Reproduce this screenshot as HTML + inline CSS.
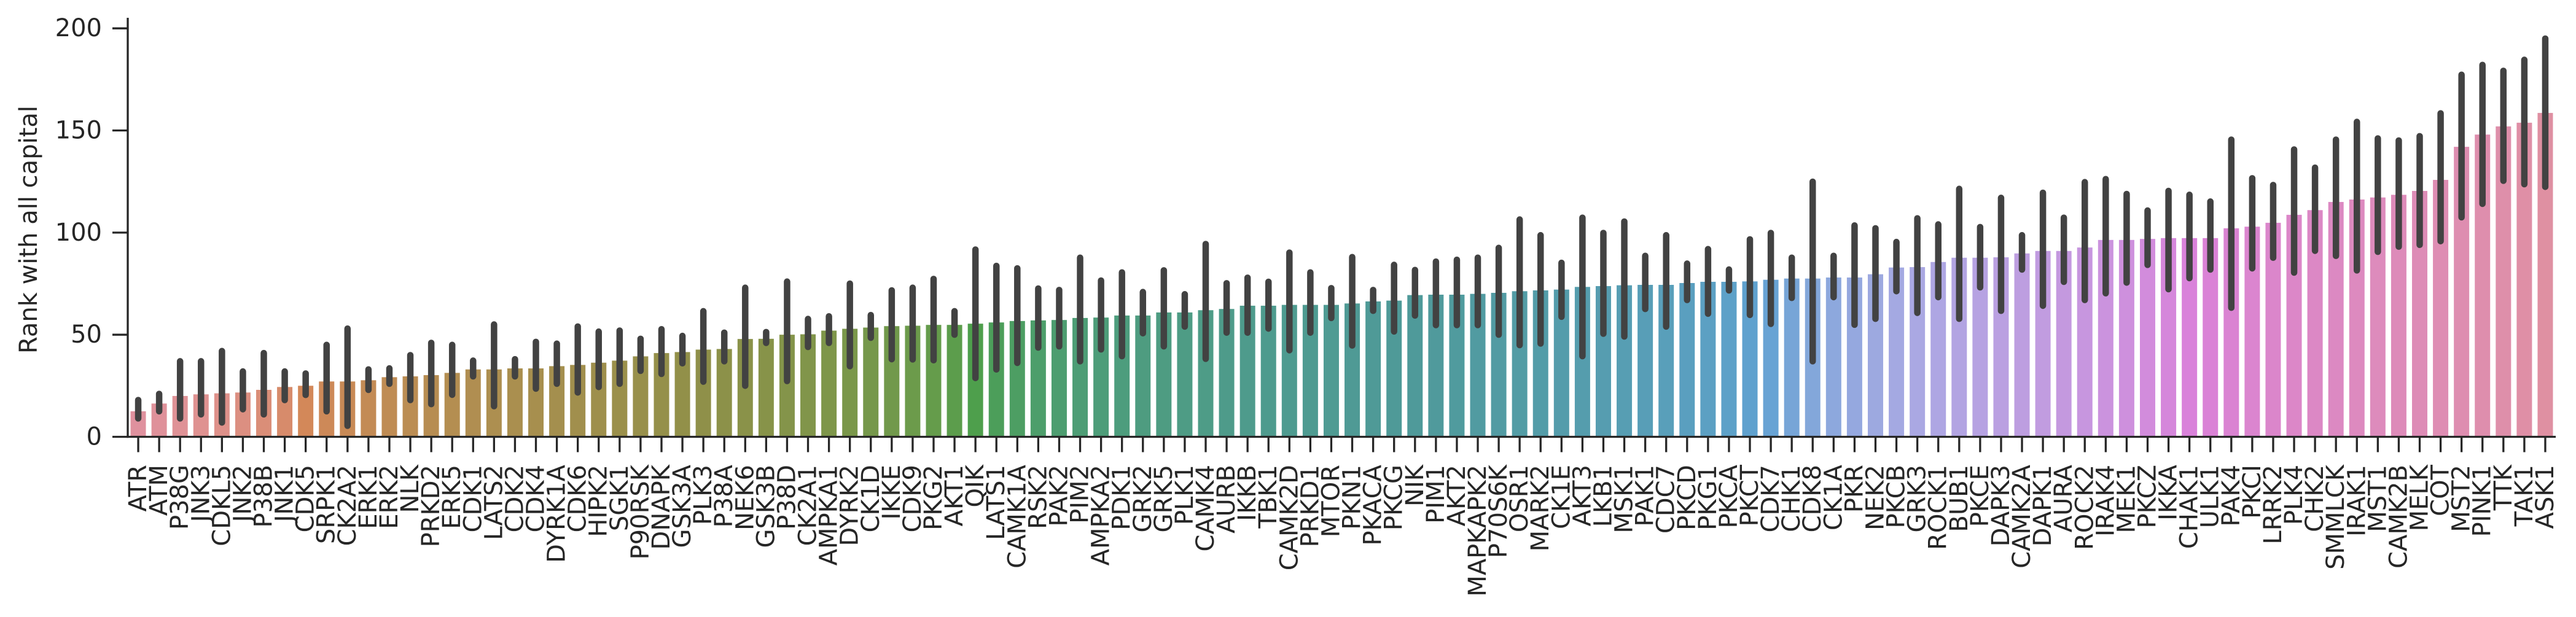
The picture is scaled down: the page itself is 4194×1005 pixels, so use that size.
<!DOCTYPE html>
<html><head><meta charset="utf-8"><style>
html,body{margin:0;padding:0;background:#fff;}
svg{display:block;font-family:"DejaVu Sans","Liberation Sans",sans-serif;}
</style></head><body>
<svg id="chart" width="4194" height="1005" viewBox="0 0 4194 1005" xmlns="http://www.w3.org/2000/svg">
<rect x="0" y="0" width="4194" height="1005" fill="#fff"/>
<g id="bars"></g>
<g id="errs"></g>
<g id="axes"></g>
<text x="0" y="0" transform="translate(60,374) rotate(-90)" text-anchor="middle" font-size="40" fill="#262626">Rank with all capital</text>
</svg>
<script>
const categories = ["ATR","ATM","P38G","JNK3","CDKL5","JNK2","P38B","JNK1","CDK5","SRPK1","CK2A2","ERK1","ERK2","NLK","PRKD2","ERK5","CDK1","LATS2","CDK2","CDK4","DYRK1A","CDK6","HIPK2","SGK1","P90RSK","DNAPK","GSK3A","PLK3","P38A","NEK6","GSK3B","P38D","CK2A1","AMPKA1","DYRK2","CK1D","IKKE","CDK9","PKG2","AKT1","QIK","LATS1","CAMK1A","RSK2","PAK2","PIM2","AMPKA2","PDK1","GRK2","GRK5","PLK1","CAMK4","AURB","IKKB","TBK1","CAMK2D","PRKD1","MTOR","PKN1","PKACA","PKCG","NIK","PIM1","AKT2","MAPKAPK2","P70S6K","OSR1","MARK2","CK1E","AKT3","LKB1","MSK1","PAK1","CDC7","PKCD","PKG1","PKCA","PKCT","CDK7","CHK1","CDK8","CK1A","PKR","NEK2","PKCB","GRK3","ROCK1","BUB1","PKCE","DAPK3","CAMK2A","DAPK1","AURA","ROCK2","IRAK4","MEK1","PKCZ","IKKA","CHAK1","ULK1","PAK4","PKCI","LRRK2","PLK4","CHK2","SMMLCK","IRAK1","MST1","CAMK2B","MELK","COT","MST2","PINK1","TTK","TAK1","ASK1"];
const means = [12.5,16.3,20,20.8,21.3,21.7,23,24.4,25,27.1,27.1,27.7,29.2,29.6,30.2,31.3,33,33,33.5,33.5,34.6,35.2,36.3,37.3,39.4,41,41.5,42.7,43,47.9,48,50,50.2,52,52.9,53.5,54.2,54.4,54.8,54.8,55.4,56,56.7,57,57.2,58.2,58.4,59.4,59.4,60.9,60.9,62,62.6,64.2,64.2,64.6,64.6,64.6,65.3,66.3,66.7,69.4,69.6,69.6,70,70.5,71.3,71.7,72.1,73.4,73.8,74.2,74.4,74.4,75.3,75.9,75.9,76.1,76.9,77.5,77.5,78,78,79.6,82.9,83.1,85.6,87.7,87.7,87.9,89.8,91,91,92.7,96.4,96.4,96.9,97.3,97.3,97.3,102.1,102.9,104.8,108.7,111,115,116.2,117.2,118.5,120.4,125.8,142,148,152,153.8,158.6];
const errHigh = [18,21,37,37,42,32,41,32,31,45,53,33,33.5,40,46,45,37.3,55,38,46.5,45.6,54,51.5,52,48,52.7,49.4,61.5,51,73,51.3,76,57.7,59,75,59.6,71.7,73,77.3,61.5,91.7,83.7,82.5,72.6,71.9,87.7,76.5,80.5,70.9,81.5,69.8,94.4,75.2,77.9,75.9,90.2,80.5,72.8,88,71.9,84.2,81.7,85.8,86.7,87.7,92.5,106.4,98.7,85.2,107.3,99.8,105.4,88.6,98.7,84.8,91.9,81.9,96.7,99.8,87.7,124.9,88.6,103.5,102.1,95.4,107,104,121.4,102.7,117,98.7,119.5,107.3,124.7,126.2,118.9,110.8,120.4,118.5,115.2,145.5,126.6,123.3,140.7,131.8,145.5,154.2,146.1,145.1,147.2,158.4,177.3,182.1,179.2,184.6,195];
const errLow = [9,12.5,9,11,7,13.5,11,18,20.5,12.5,5.4,23,26,18,16,20.6,29.6,15,29.6,23.6,26,21.7,24.4,26,32.3,30.8,36,27,37,25,46,27.3,44,46,34.6,48.5,38,37.9,37.5,50,28.8,33,36.2,43.7,44.3,37,42.8,39.5,50.7,44.3,54,38.2,51,51,53,42.4,51,58.2,44.7,61.7,51.6,59.4,54.7,54.7,54.7,50,44.9,45.7,58.8,39.5,50.5,49.1,62.6,54,67,60.3,71.7,59.7,55.3,68,37,68.4,54.9,57.8,71.3,60.7,68.4,57.8,73.2,61.7,81.9,64.2,75.9,67,70.3,75.5,84.2,72.3,77.7,81.9,63.2,82.5,87.7,80.4,91.1,88.6,81.5,90.6,93.1,94,95.8,107.5,114.1,125.4,123.7,122.4];
const yTicks = [0,50,100,150,200];

const NS = "http://www.w3.org/2000/svg";
const X0 = 208, X1 = 4161, Y0 = 711.5, YTOP = 29;
const band = (X1 - X0) / categories.length;
function xPos(i){ return X0 + band * (i + 0.5); }
function yPos(v){ return Y0 - v * (711.5 - 46.2) / 200; }

const M=[[3.240969941904521,-1.537383177570093,-0.498610760293],[-0.96924363628087,1.87596750150772,0.041555057407175],[0.055630079696993,-0.20397695888897,1.056971514242878]];
const refU=0.19783000664283,refV=0.46831999493879,kappa=903.2962962,eps=0.0088564516;
function bounds(L){const r=[];const s1=Math.pow(L+16,3)/1560896;const s2=s1>eps?s1:L/kappa;
 for(let c=0;c<3;c++){const[m1,m2,m3]=M[c];for(let t=0;t<2;t++){const top1=(284517*m1-94839*m3)*s2;
 const top2=(838422*m3+769860*m2+731718*m1)*L*s2-769860*t*L;const bot=(632260*m3-126452*m2)*s2+126452*t;
 r.push([top1/bot,top2/bot]);}}return r;}
function maxC(L,H){const h=H/360*Math.PI*2;let mn=Infinity;for(const[sl,ic] of bounds(L)){const len=ic/(Math.sin(h)-sl*Math.cos(h));if(len>=0)mn=Math.min(mn,len);}return mn;}
function husl(H,S,L){const C=maxC(L,H)/100*S;const h=H/180*Math.PI;const U=C*Math.cos(h),V=C*Math.sin(h);
 const vu=U/(13*L)+refU,vv=V/(13*L)+refV;const Y=L<=8?L/kappa:Math.pow((L+16)/116,3);
 const X=0-(9*Y*vu)/((vu-4)*vv-vu*vv);const Z=(9*Y-15*vv*Y-vv*X)/(3*vv);
 return M.map(r=>{const c=r[0]*X+r[1]*Y+r[2]*Z;const v=c<=0.0031308?12.92*c:1.055*Math.pow(c,1/2.4)-0.055;return Math.min(1,Math.max(0,v));});}
function desat(rgb,p){const[r,g,b]=rgb;const mx=Math.max(r,g,b),mn=Math.min(r,g,b);let l=(mx+mn)/2,s=0,h=0;
 if(mx!==mn){const d=mx-mn;s=l>0.5?d/(2-mx-mn):d/(mx+mn);
 if(mx===r)h=((g-b)/d+(g<b?6:0));else if(mx===g)h=(b-r)/d+2;else h=(r-g)/d+4;h/=6;}
 s*=p;const q=l<0.5?l*(1+s):l+s-l*s,pp=2*l-q;
 function f(t){t=(t+1)%1;if(t<1/6)return pp+(q-pp)*6*t;if(t<1/2)return q;if(t<2/3)return pp+(q-pp)*(2/3-t)*6;return pp;}
 return s===0?[l,l,l]:[f(h+1/3),f(h),f(h-1/3)];}
function colorFor(i,n){let h=(i/n+0.01)%1;const rgb=desat(husl(h*359,89.1,66),0.62);
 return "rgb("+rgb.map(v=>Math.round(v*255)).join(",")+")";}

const gb=document.getElementById("bars"), ge=document.getElementById("errs"), ga=document.getElementById("axes");
const bw = 25;
categories.forEach((c,i)=>{
  const r=document.createElementNS(NS,"rect");
  
  
  r.setAttribute("x",xPos(i)-bw/2); r.setAttribute("width",bw);
  r.setAttribute("y",yPos(means[i])); r.setAttribute("height",Y0-yPos(means[i]));
  r.setAttribute("fill",colorFor(i,categories.length));
  gb.appendChild(r);
  const l=document.createElementNS(NS,"line");
  
  
  l.setAttribute("x1",xPos(i)); l.setAttribute("x2",xPos(i));
  l.setAttribute("y1",yPos(errLow[i])); l.setAttribute("y2",yPos(errHigh[i]));
  l.setAttribute("stroke","#424242"); l.setAttribute("stroke-width","10.5"); l.setAttribute("stroke-linecap","round");
  ge.appendChild(l);
  const t=document.createElementNS(NS,"line");
  
  
  t.setAttribute("x1",xPos(i)); t.setAttribute("x2",xPos(i)); t.setAttribute("y1",Y0); t.setAttribute("y2",Y0+25);
  t.setAttribute("stroke","#262626"); t.setAttribute("stroke-width","3.3");
  ga.appendChild(t);
  const tx=document.createElementNS(NS,"text");
  
  
  tx.setAttribute("transform","translate("+xPos(i)+",757) rotate(-90)");
  tx.setAttribute("text-anchor","end"); tx.setAttribute("dominant-baseline","central");
  tx.setAttribute("font-size","40"); tx.setAttribute("fill","#262626");
  tx.textContent=c; ga.appendChild(tx);
});
yTicks.forEach(v=>{
  const t=document.createElementNS(NS,"line");
  
  
  t.setAttribute("x1",X0-25); t.setAttribute("x2",X0); t.setAttribute("y1",yPos(v)); t.setAttribute("y2",yPos(v));
  t.setAttribute("stroke","#262626"); t.setAttribute("stroke-width","3.3"); ga.appendChild(t);
  const tx=document.createElementNS(NS,"text");
  
  
  tx.setAttribute("x",166); tx.setAttribute("y",yPos(v)); tx.setAttribute("text-anchor","end");
  tx.setAttribute("dominant-baseline","central"); tx.setAttribute("font-size","40"); tx.setAttribute("fill","#262626");
  tx.textContent=v; ga.appendChild(tx);
});
const sp1=document.createElementNS(NS,"line");


sp1.setAttribute("x1",X0); sp1.setAttribute("x2",X0); sp1.setAttribute("y1",YTOP); sp1.setAttribute("y2",Y0+1.6);
sp1.setAttribute("stroke","#262626"); sp1.setAttribute("stroke-width","3.3"); ga.appendChild(sp1);
const sp2=document.createElementNS(NS,"line");


sp2.setAttribute("x1",X0-1.6); sp2.setAttribute("x2",X1); sp2.setAttribute("y1",Y0); sp2.setAttribute("y2",Y0);
sp2.setAttribute("stroke","#262626"); sp2.setAttribute("stroke-width","3.3"); ga.appendChild(sp2);
</script>
</body></html>
